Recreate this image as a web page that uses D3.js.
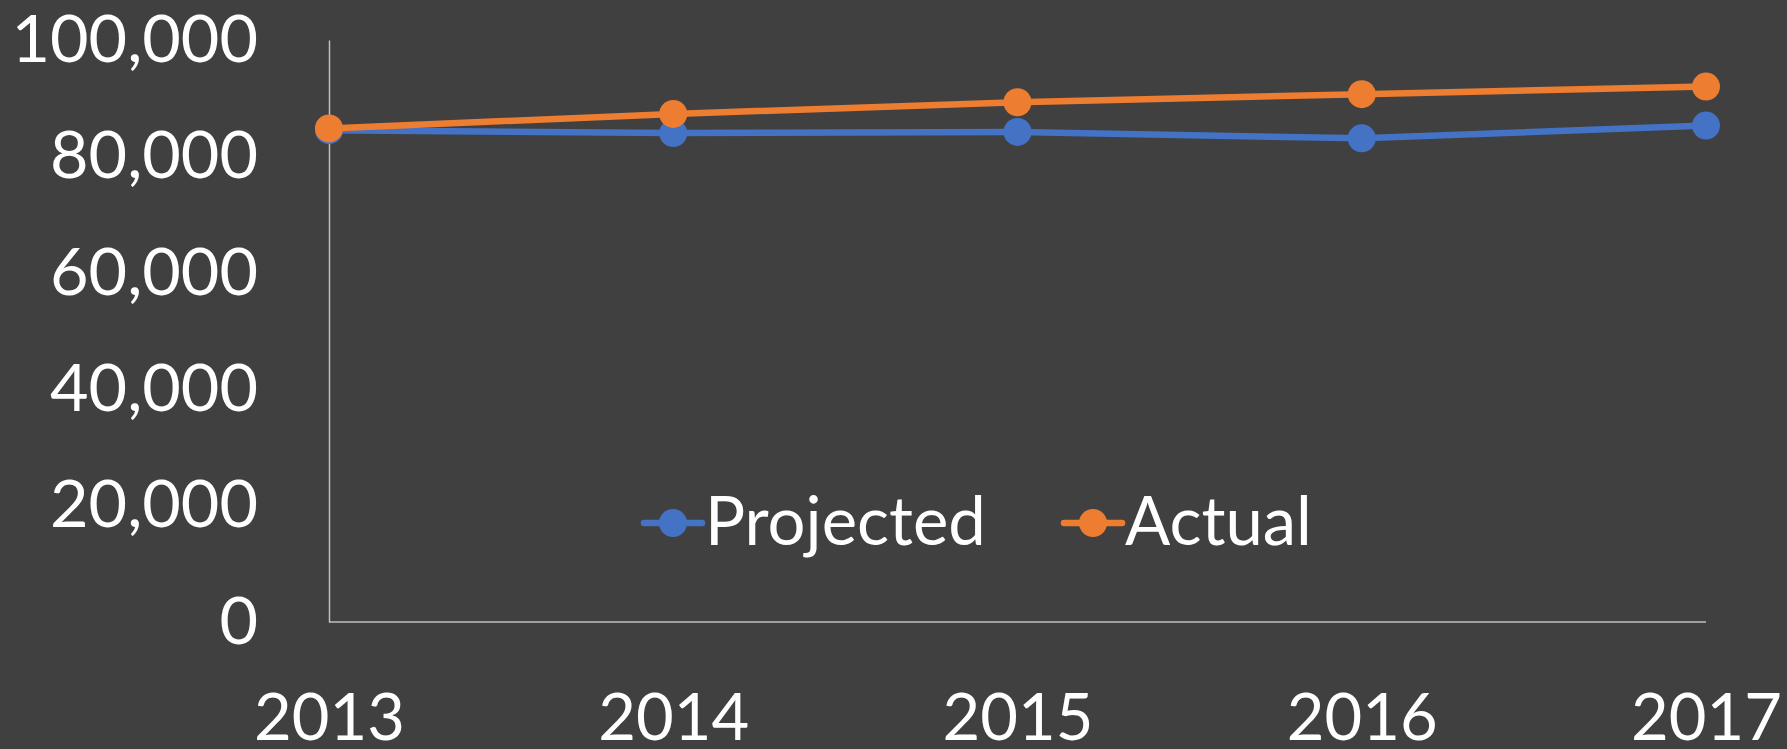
<!DOCTYPE html>
<html>
<head>
<meta charset="utf-8">
<script src="https://cdn.jsdelivr.net/npm/d3@7"></script>
<style>
  html, body { margin: 0; padding: 0; background: #404040; }
  svg text { font-family: Lato, "Open Sans", sans-serif; fill: #ffffff; }
</style>
</head>
<body>
<div id="chart"></div>
<script>
var years = ["2013", "2014", "2015", "2016", "2017"];
var projected = [84500, 84000, 84200, 83100, 85300];
var actual = [84800, 87300, 89300, 90700, 92000];
var yTicks = [0, 20000, 40000, 60000, 80000, 100000];
var seriesNames = ["Projected", "Actual"];
var seriesColors = ["#4472c4", "#ed7d31"];

var width = 1787;
var height = 749;

var svg = d3.select("div#chart").append("svg")
  .attr("width", width)
  .attr("height", height);

svg.append("rect")
  .attr("width", width)
  .attr("height", height)
  .attr("fill", "#404040");

var x = d3.scalePoint()
  .domain(years)
  .range([329, 1706]);

var y = d3.scaleLinear()
  .domain([0, 100000])
  .range([622, 40]);

/* axes: plain lines, no ticks */
var yAxis = svg.append("g")
  .attr("transform", "translate(329,0)")
  .call(d3.axisLeft(y).tickValues(yTicks).tickSize(0).tickPadding(71)
    .tickFormat(d3.format(",")));
yAxis.select(".domain").attr("stroke", "#bfbfbf").attr("stroke-width", 1.5);
yAxis.selectAll("text")
  .attr("font-size", 66.5)
  .attr("dy", "0.32em");

var xAxis = svg.append("g")
  .attr("transform", "translate(0,622)")
  .call(d3.axisBottom(x).tickSize(0).tickPadding(0));
xAxis.select(".domain")
  .attr("d", "M329,0H1706")
  .attr("stroke", "#bfbfbf").attr("stroke-width", 1.5);
xAxis.selectAll("text")
  .attr("font-size", 65)
  .attr("dy", null)
  .attr("y", 118);
svg.selectAll(".tick text").style("fill", "#ffffff");

var line = d3.line()
  .x(function(d, i) { return x(years[i]); })
  .y(function(d) { return y(d); });

var allSeries = [projected, actual];
for (var s = 0; s < allSeries.length; s++) {
  var g = svg.append("g").attr("class", "series");
  g.append("path")
    .datum(allSeries[s])
    .attr("d", line)
    .attr("fill", "none")
    .attr("stroke", seriesColors[s])
    .attr("stroke-width", 6.5)
    .attr("stroke-linejoin", "round");
  g.selectAll("circle")
    .data(allSeries[s])
    .enter()
    .append("circle")
    .attr("cx", function(d, i) { return x(years[i]); })
    .attr("cy", function(d) { return y(d); })
    .attr("r", 14)
    .attr("fill", seriesColors[s]);
}

/* legend */
var legendX = [644, 1064];
var legend = svg.selectAll("g.legend")
  .data(seriesNames)
  .enter()
  .append("g")
  .attr("class", "legend")
  .attr("transform", function(d, i) { return "translate(" + legendX[i] + ",523)"; });

legend.append("line")
  .attr("x1", 0).attr("x2", 58)
  .attr("y1", 0).attr("y2", 0)
  .attr("stroke", function(d, i) { return seriesColors[i]; })
  .attr("stroke-width", 6.5)
  .attr("stroke-linecap", "round");
legend.append("circle")
  .attr("cx", 29).attr("cy", 0).attr("r", 14)
  .attr("fill", function(d, i) { return seriesColors[i]; });
legend.append("text")
  .attr("x", 61)
  .attr("y", 22)
  .attr("font-size", 67)
  .text(function(d) { return d; });
</script>
</body>
</html>
